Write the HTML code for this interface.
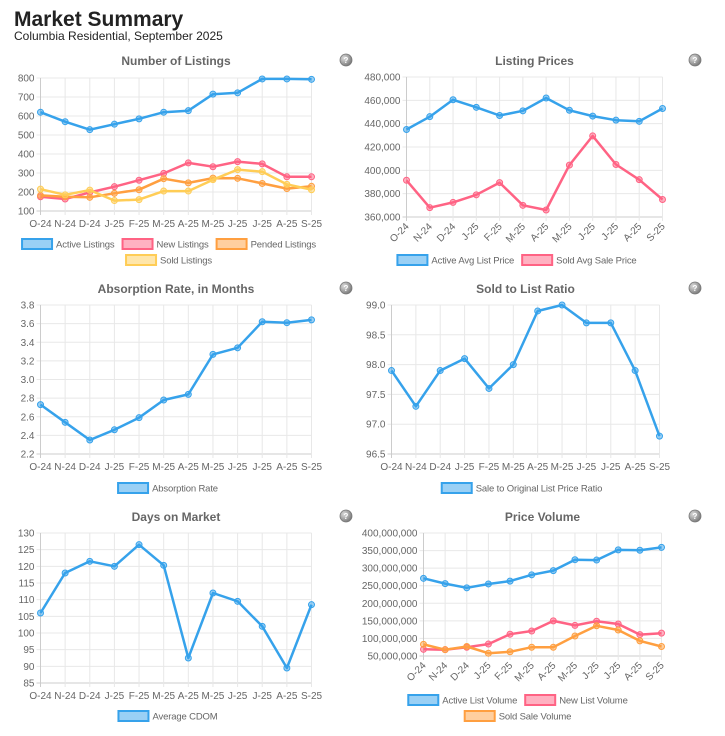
<!DOCTYPE html>
<html><head><meta charset="utf-8">
<style>
html,body{margin:0;padding:0;background:#fff;width:725px;height:736px;overflow:hidden;font-family:"Liberation Sans",Arial,sans-serif}
#h1{position:absolute;left:14px;top:8px;font-size:21px;font-weight:bold;color:#222;line-height:24px}
#h2{position:absolute;left:14px;top:29px;font-size:12px;color:#222;line-height:14px}
svg{position:absolute;left:0;top:0}
</style></head><body>
<div id="h1">Market Summary</div>
<div id="h2">Columbia Residential, September 2025</div>
<svg id="s" width="725" height="736" xmlns="http://www.w3.org/2000/svg">
<defs><radialGradient id="hg" cx="0.35" cy="0.35" r="0.7"><stop offset="0" stop-color="#ddd"/><stop offset="1" stop-color="#777"/></radialGradient></defs>
</svg>
<script>
const months = ["O-24","N-24","D-24","J-25","F-25","M-25","A-25","M-25","J-25","J-25","A-25","S-25"];
const listingsActive = [620,570,528,557,585,620,628,715,722,795,795,793];
const listingsNew = [175,163,198,228,262,298,353,333,360,348,280,280];
const listingsPended = [182,175,172,193,212,270,248,273,272,245,218,230];
const listingsSold = [215,185,210,155,160,205,205,265,318,307,240,212];
const listingTicks = [100,200,300,400,500,600,700,800];
const priceActive = [435000,446000,460500,454000,447000,451000,462000,451500,446500,443000,442000,453000];
const priceSold = [391500,368000,372500,379000,389500,370000,366000,404500,429500,405000,392000,375000];
const priceTicks = [360000,380000,400000,420000,440000,460000,480000];
const absorption = [2.73,2.54,2.35,2.46,2.59,2.78,2.84,3.27,3.34,3.62,3.61,3.64];
const absorptionTicks = [2.2,2.4,2.6,2.8,3.0,3.2,3.4,3.6,3.8];
const soldToList = [97.9,97.3,97.9,98.1,97.6,98.0,98.9,99.0,98.7,98.7,97.9,96.8];
const soldToListTicks = [96.5,97.0,97.5,98.0,98.5,99.0];
const cdom = [106,118,121.5,120,126.5,120.3,92.5,112,109.5,102,89.5,108.5];
const cdomTicks = [85,90,95,100,105,110,115,120,125,130];
const volActive = [271e6,256e6,244e6,255e6,263e6,281e6,293e6,324e6,323e6,352e6,351e6,359e6];
const volNew = [69e6,68e6,75e6,84e6,112e6,121e6,150e6,137e6,149e6,141e6,111e6,115e6];
const volSold = [83e6,68e6,77e6,58e6,62e6,75e6,75e6,107e6,136e6,124e6,93e6,77e6];
const volTicks = [50e6,100e6,150e6,200e6,250e6,300e6,350e6,400e6];

const C={blue:["#36a2eb","rgba(54,162,235,0.5)"],pink:["#ff6384","rgba(255,99,132,0.5)"],orange:["#ff9f40","rgba(255,159,64,0.5)"],yellow:["#ffcd56","rgba(255,205,86,0.5)"]};
const NS="http://www.w3.org/2000/svg";
const svg=document.getElementById('s');
function mk(tag,at,parent){const e=document.createElementNS(NS,tag);for(const k in at)e.setAttribute(k,at[k]);(parent||svg).appendChild(e);return e;}
function fmt(v,dec){if(dec!==undefined)return v.toFixed(dec);return Math.round(v).toLocaleString('en-US');}

function chart(o){
  const g=mk('g',{});
  
  
  const lo=o.ticks[0],hi=o.ticks[o.ticks.length-1];
  const xs=i=>o.x0+(o.x1-o.x0)*i/(months.length-1);
  const ys=v=>o.y1-(o.y1-o.y0)*(v-lo)/(hi-lo);
  const t=mk('text',{x:(o.x0+o.x1)/2,y:o.ty,'text-anchor':'middle','font-size':12,'font-weight':'bold',fill:'#666'},g);
  t.textContent=o.title;
  
  
  const hc=mk('circle',{cx:o.help[0],cy:o.help[1],r:6,fill:'url(#hg)',stroke:'#777','stroke-width':0.8},g);
  
  
  const hq=mk('text',{x:o.help[0],y:o.help[1]+3,'text-anchor':'middle','font-size':8,'font-weight':'bold',fill:'#fff'},g);hq.textContent='?';
  o.ticks.forEach(v=>{
    const y=ys(v);
    mk('line',{x1:o.x0-4,x2:o.x1,y1:y,y2:y,stroke:v===lo?'#ccc':'#e8e8e8','stroke-width':1},g);
    const tl=mk('text',{x:o.x0-6,y:y+3.5,'text-anchor':'end','font-size':10,fill:'#666'},g);
    tl.textContent=fmt(v,o.dec);
    
    
  });
  months.forEach((m,i)=>{
    const x=xs(i);
    mk('line',{x1:x,x2:x,y1:o.y0,y2:o.y1+4,stroke:i===0?'#ccc':'#e8e8e8','stroke-width':1},g);
    let tl;
    if(o.rot){tl=mk('text',{x:x+3,y:o.y1+10,'text-anchor':'end','font-size':10,fill:'#666',transform:`rotate(-45 ${x+3} ${o.y1+10})`},g);}
    else tl=mk('text',{x:x,y:o.y1+16,'text-anchor':'middle','font-size':10,fill:'#666'},g);
    tl.textContent=m;
    
    
  });
  o.series.forEach(s=>{
    const pts=s.data.map((v,i)=>xs(i).toFixed(1)+','+ys(v).toFixed(1)).join(' ');
    const pl=mk('polyline',{points:pts,fill:'none',stroke:C[s.c][0],'stroke-width':2.5,'stroke-linejoin':'round'},g);
    
    
    s.data.forEach((v,i)=>{
      const p=mk('circle',{cx:xs(i),cy:ys(v),r:3,fill:C[s.c][1],stroke:C[s.c][0],'stroke-width':1},g);
      
      
    });
  });
  o.legend.forEach((row,ri)=>{
    const items=row.map(idx=>{const s=o.series[idx];const tx=mk('text',{'font-size':9.5,fill:'#666','letter-spacing':'-0.15'},g);tx.textContent=s.label;return {s,tx,w:tx.getComputedTextLength()};});
    const BW=30,GAP=4,SP=8;
    const total=items.reduce((a,it)=>a+BW+GAP+it.w,0)+(items.length-1)*SP;
    let x=o.legendCx-total/2;const y=o.ly[ri];
    items.forEach(it=>{
      const r=mk('rect',{x:x,y:y-5,width:BW,height:10,fill:C[it.s.c][1],stroke:C[it.s.c][0],'stroke-width':2},g);
      
      
      it.tx.setAttribute('x',x+BW+GAP);it.tx.setAttribute('y',y+3.5);
      x+=BW+GAP+it.w+SP;
    });
  });
}

chart({name:'number-of-listings-chart',title:'Number of Listings',ty:65,help:[346,60],x0:40.5,x1:311.5,y0:78,y1:211,ticks:listingTicks,
  series:[{label:'Active Listings',c:'blue',data:listingsActive},{label:'New Listings',c:'pink',data:listingsNew},{label:'Pended Listings',c:'orange',data:listingsPended},{label:'Sold Listings',c:'yellow',data:listingsSold}],
  legend:[[0,1,2],[3]],ly:[244,260],legendCx:169});
chart({name:'listing-prices-chart',title:'Listing Prices',ty:65,help:[695,60],x0:406.5,x1:662.5,y0:77,y1:217,ticks:priceTicks,rot:true,
  series:[{label:'Active Avg List Price',c:'blue',data:priceActive},{label:'Sold Avg Sale Price',c:'pink',data:priceSold}],
  legend:[[0,1]],ly:[260],legendCx:517});
chart({name:'absorption-rate-chart',title:'Absorption Rate, in Months',ty:293,help:[346,288],x0:40.5,x1:311.5,y0:305,y1:454,ticks:absorptionTicks,dec:1,
  series:[{label:'Absorption Rate',c:'blue',data:absorption}],legend:[[0]],ly:[488],legendCx:168});
chart({name:'sold-to-list-ratio-chart',title:'Sold to List Ratio',ty:293,help:[695,288],x0:391.5,x1:659.5,y0:305,y1:454,ticks:soldToListTicks,dec:1,
  series:[{label:'Sale to Original List Price Ratio',c:'blue',data:soldToList}],legend:[[0]],ly:[488],legendCx:522});
chart({name:'days-on-market-chart',title:'Days on Market',ty:521,help:[346,516],x0:40.5,x1:311.5,y0:533,y1:683,ticks:cdomTicks,
  series:[{label:'Average CDOM',c:'blue',data:cdom}],legend:[[0]],ly:[716],legendCx:168});
chart({name:'price-volume-chart',title:'Price Volume',ty:521,help:[695,516],x0:423.5,x1:661.5,y0:533,y1:656,ticks:volTicks,rot:true,
  series:[{label:'Active List Volume',c:'blue',data:volActive},{label:'New List Volume',c:'pink',data:volNew},{label:'Sold Sale Volume',c:'orange',data:volSold}],
  legend:[[0,1],[2]],ly:[700,716],legendCx:518});
</script>
</body></html>
